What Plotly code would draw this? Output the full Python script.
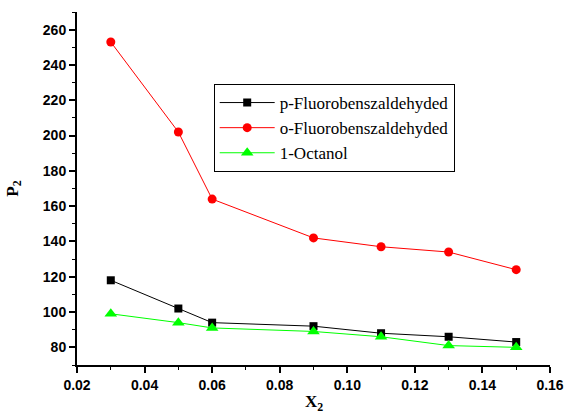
import plotly.graph_objects as go

x2 = [0.03, 0.05, 0.06, 0.09, 0.11, 0.13, 0.15]
p_fluoro = [118, 102, 94, 92, 88, 86, 83]
o_fluoro = [253, 202, 164, 142, 137, 134, 124]
octanol = [99, 94, 91, 89, 86, 81, 80]
x_ticks = [0.02, 0.04, 0.06, 0.08, 0.10, 0.12, 0.14, 0.16]
x_labels = ["0.02", "0.04", "0.06", "0.08", "0.10", "0.12", "0.14", "0.16"]
y_ticks = [80, 100, 120, 140, 160, 180, 200, 220, 240, 260]

fig = go.Figure()
fig.add_trace(go.Scatter(x=x2, y=p_fluoro, mode="lines+markers", name="p-Fluorobenszaldehyded",
                         line=dict(color="black", width=1),
                         marker=dict(symbol="square", size=8, color="black")))
fig.add_trace(go.Scatter(x=x2, y=o_fluoro, mode="lines+markers", name="o-Fluorobenszaldehyded",
                         line=dict(color="red", width=1),
                         marker=dict(symbol="circle", size=9, color="red")))
fig.add_trace(go.Scatter(x=x2, y=octanol, mode="lines+markers", name="1-Octanol",
                         line=dict(color="#00ff00", width=1),
                         marker=dict(symbol="triangle-up", size=11, color="#00ff00")))

tickfont = dict(family="Liberation Sans, Arial", size=14, color="black", weight=700)
titlefont = dict(family="Liberation Serif, Times New Roman", size=17, color="black", weight=700)
fig.update_layout(
    width=565, height=418,
    margin=dict(l=77, r=15, t=12, b=53),
    paper_bgcolor="white", plot_bgcolor="white",
    showlegend=True,
    legend=dict(x=0.289, y=0.796, xanchor="left", yanchor="top",
                bordercolor="black", borderwidth=1, bgcolor="white",
                font=dict(family="Liberation Serif, Times New Roman", size=17, color="black"),
                tracegroupgap=0, itemwidth=55),
    xaxis=dict(range=[0.02, 0.16], tickvals=x_ticks,
               ticktext=["<b>%s</b>" % t for t in x_labels],
               showgrid=False, zeroline=False, showline=True, linecolor="black", linewidth=2,
               ticks="outside", ticklen=6, tickwidth=2, tickcolor="black", tickfont=tickfont,
               automargin=False,
               minor=dict(ticks="outside", ticklen=3, tickwidth=1, tickcolor="black", dtick=0.01, showgrid=False)),
    yaxis=dict(range=[70, 270], tickvals=y_ticks,
               ticktext=["<b>%d</b>" % t for t in y_ticks],
               showgrid=False, zeroline=False, showline=True, linecolor="black", linewidth=2,
               ticks="outside", ticklen=6, tickwidth=2, tickcolor="black", tickfont=tickfont,
               automargin=False,
               minor=dict(ticks="outside", ticklen=3, tickwidth=1, tickcolor="black", dtick=10, showgrid=False)),
    annotations=[
        dict(text="X<sub>2</sub>", xref="paper", yref="paper", x=0.5, y=-0.072, yanchor="top",
             xanchor="center", showarrow=False, font=titlefont),
        dict(text="P<sub>2</sub>", xref="paper", yref="paper", x=-0.135, y=0.5, textangle=-90,
             xanchor="center", yanchor="middle", showarrow=False, font=titlefont),
    ],
)
fig.write_html("out.html")
